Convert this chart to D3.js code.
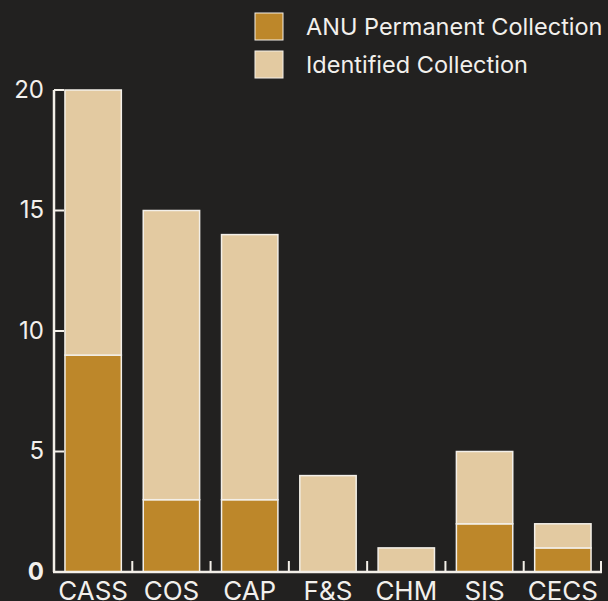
<!DOCTYPE html>
<html>
<head>
<meta charset="utf-8">
<script src="https://cdn.jsdelivr.net/npm/d3@7"></script>
<style>
  html, body { margin: 0; padding: 0; background: #222120; }
  svg { display: block; }
  text { font-family: Inter, Roboto, "Noto Sans", sans-serif; fill: #f2f0ec; }
</style>
</head>
<body>
<svg id="chart" width="608" height="601"></svg>
<script>
// Collections held by each college
const categories = ["CASS", "COS", "CAP", "F&S", "CHM", "SIS", "CECS"];
const permanent  = [9, 3, 3, 0, 0, 2, 1];     // ANU Permanent Collection
const identified = [11, 12, 11, 4, 1, 3, 1];  // Identified Collection (stacked on top)
const seriesNames = ["ANU Permanent Collection", "Identified Collection"];
const seriesColors = ["#bd872a", "#e3caa1"];
const yTicks = [0, 5, 10, 15, 20];

const svg = d3.select("#chart");
const plotLeft = 54, plotRight = 602, plotTop = 90, plotBottom = 572;

const x = d3.scaleBand().domain(categories).range([plotLeft, plotRight])
  .paddingInner(0.28).paddingOuter(0.14);
const y = d3.scaleLinear().domain([0, 20]).range([plotBottom, plotTop]);

const rows = categories.map((c, i) => ({ cat: c, perm: permanent[i], ident: identified[i] }));
const stack = d3.stack().keys(["perm", "ident"])(rows);

const stroke = "#f3efe8";

// stacked bars
stack.forEach((layer, k) => {
  svg.append("g").selectAll("rect")
    .data(layer.filter(d => d[1] > d[0]))
    .join("rect")
    .attr("x", d => x(d.data.cat))
    .attr("width", x.bandwidth())
    .attr("y", d => y(d[1]))
    .attr("height", d => y(d[0]) - y(d[1]))
    .attr("fill", seriesColors[k])
    .attr("stroke", stroke)
    .attr("stroke-width", 1.5);
});

// y axis: line with inward ticks
const yAxis = svg.append("g");
yAxis.append("line")
  .attr("x1", plotLeft).attr("x2", plotLeft).attr("y1", y(20)).attr("y2", y(0))
  .attr("stroke", stroke).attr("stroke-width", 2.5);
yAxis.selectAll("line.tick").data(yTicks).join("line").attr("class", "tick")
  .attr("x1", plotLeft).attr("x2", plotLeft + 10)
  .attr("y1", d => y(d)).attr("y2", d => y(d))
  .attr("stroke", stroke).attr("stroke-width", 2);
yAxis.selectAll("text").data(yTicks).join("text")
  .attr("x", 44).attr("y", d => y(d) - 1).attr("dy", "0.36em")
  .attr("text-anchor", "end").attr("font-size", 24)
  .attr("font-weight", d => d === 0 ? 700 : 400)
  .text(d => d);

// x axis: baseline with small ticks after each band
const xAxis = svg.append("g");
xAxis.append("line")
  .attr("x1", plotLeft - 1).attr("x2", plotRight).attr("y1", plotBottom).attr("y2", plotBottom)
  .attr("stroke", stroke).attr("stroke-width", 2.5);
const gap = x.step() - x.bandwidth();
xAxis.selectAll("line.tick").data(categories).join("line").attr("class", "tick")
  .attr("x1", d => Math.min(x(d) + x.bandwidth() + gap / 2, plotRight - 1))
  .attr("x2", d => Math.min(x(d) + x.bandwidth() + gap / 2, plotRight - 1))
  .attr("y1", plotBottom).attr("y2", plotBottom - 11)
  .attr("stroke", stroke).attr("stroke-width", 2);
xAxis.selectAll("text").data(categories).join("text")
  .attr("x", d => x(d) + x.bandwidth() / 2).attr("y", 600)
  .attr("text-anchor", "middle").attr("font-size", 26)
  .text(d => d);

// legend
const legend = svg.append("g");
seriesNames.forEach((name, i) => {
  const ly = 13 + i * 38;
  legend.append("rect")
    .attr("x", 255).attr("y", ly).attr("width", 28).attr("height", 27)
    .attr("fill", seriesColors[i]).attr("stroke", stroke).attr("stroke-width", 1);
  legend.append("text")
    .attr("x", 306).attr("y", ly + 22)
    .attr("font-size", 23.5).text(name);
});
</script>
</body>
</html>
